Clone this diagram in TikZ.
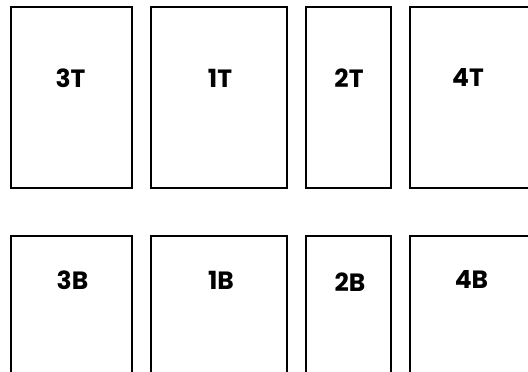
\documentclass[tikz,border=0pt]{standalone}
\usepackage{fontspec}
\setmainfont{Poppins}[UprightFont=* Bold, BoldFont=* Bold]
\begin{document}
\begin{tikzpicture}[x=1pt,y=-1pt,
  panel/.style={draw=black,line width=2pt,fill=none},
  lbl/.style={font=\fontsize{25}{28}\selectfont,anchor=base,inner sep=0pt}]
\useasboundingbox (0,0) rectangle (528,372);
\clip (0,0) rectangle (528,372);
% top row
\draw[panel] (10.5,7) rectangle (131.5,188);
\draw[panel] (150.5,7) rectangle (286.5,188);
\draw[panel] (305.5,7) rectangle (391,188);
\draw[panel] (410,7) rectangle (560,188);
% bottom row
\draw[panel] (10.5,236) rectangle (131.5,420);
\draw[panel] (150.5,236) rectangle (286.5,420);
\draw[panel] (305.5,236) rectangle (391,420);
\draw[panel] (410,236) rectangle (560,420);
% labels
\node[lbl] (t3) at (70.5,87) {3T};
\node[lbl] (t1) at (220,87) {1T};
\node[lbl] (t2) at (349,87) {2T};
\node[lbl] (t4) at (468,86) {4T};
\node[lbl] (b3) at (72.5,289) {3B};
\node[lbl] (b1) at (221,289) {1B};
\node[lbl] (b2) at (350,291) {2B};
\node[lbl] (b4) at (471.5,288) {4B};
\end{tikzpicture}
\end{document}
